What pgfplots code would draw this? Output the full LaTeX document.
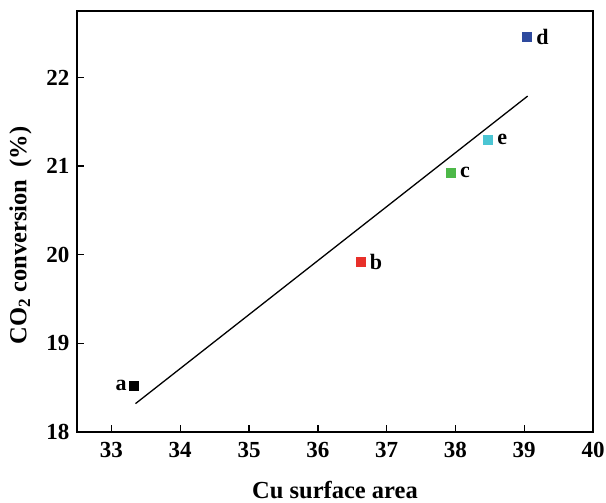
\documentclass[border=0pt]{standalone}
\usepackage{fontspec}
\setmainfont{Liberation Serif}
\usepackage{pgfplots}
\pgfplotsset{compat=1.18}
\usetikzlibrary{calc}
\definecolor{ptred}{HTML}{E8302A}
\definecolor{ptgreen}{HTML}{4DB848}
\definecolor{ptcyan}{HTML}{4BC5D3}
\definecolor{ptblue}{HTML}{2E4A9E}
\newcommand{\tickfont}{\fontsize{23bp}{27bp}\selectfont\bfseries}
\begin{document}
\begin{tikzpicture}
\begin{axis}[
  scale only axis,
  width=516bp, height=421bp,
  xmin=32.5, xmax=40,
  ymin=18, ymax=22.75,
  xtick={33,34,...,40},
  ytick={18,19,...,22},
  tick pos=left,
  tick align=inside,
  major tick length=7bp,
  axis line style={line width=1.6bp},
  every tick/.style={black, line width=1.4bp},
  xticklabel={\textbf{\pgfmathprintnumber[assume math mode=true]{\tick}}},
  yticklabel={\textbf{\pgfmathprintnumber[assume math mode=true]{\tick}}},
  xticklabel style={font=\tickfont, yshift=-7bp},
  yticklabel style={font=\tickfont, xshift=-4bp},
  label style={font=\fontsize{24.5bp}{28bp}\selectfont\bfseries},
  xlabel={Cu surface area},
  ylabel={CO\textsubscript{2} conversion\ \ (\%)},
  xlabel style={yshift=-16bp},
  ylabel style={yshift=8bp, xshift=-14bp},
  every node near coord/.style={font=\fontsize{22bp}{26bp}\selectfont\bfseries, anchor=west},
  clip=false,
]
\addplot[black, line width=1.3bp] coordinates {(33.35,18.32) (39.05,21.79)};
\addplot[only marks, mark=square*, mark size=4.5bp, black,
  nodes near coords={a}, every node near coord/.append style={anchor=east, xshift=-4bp}]
  coordinates {(33.33,18.52)};
\addplot[only marks, mark=square*, mark size=4.5bp, ptred,
  nodes near coords={\color{black}b}, every node near coord/.append style={xshift=6bp}]
  coordinates {(36.62,19.92)};
\addplot[only marks, mark=square*, mark size=4.5bp, ptgreen,
  nodes near coords={\color{black}c}, every node near coord/.append style={xshift=6bp}]
  coordinates {(37.93,20.93)};
\addplot[only marks, mark=square*, mark size=4.5bp, ptblue,
  nodes near coords={\color{black}d}, every node near coord/.append style={xshift=6bp}]
  coordinates {(39.04,22.46)};
\addplot[only marks, mark=square*, mark size=4.5bp, ptcyan,
  nodes near coords={\color{black}e}, every node near coord/.append style={xshift=6bp}]
  coordinates {(38.47,21.30)};
\end{axis}
\pgfresetboundingbox
\path ($(current axis.south west)+(-77bp,-70bp)$) rectangle ($(current axis.north east)+(13bp,11bp)$);
\end{tikzpicture}
\end{document}
